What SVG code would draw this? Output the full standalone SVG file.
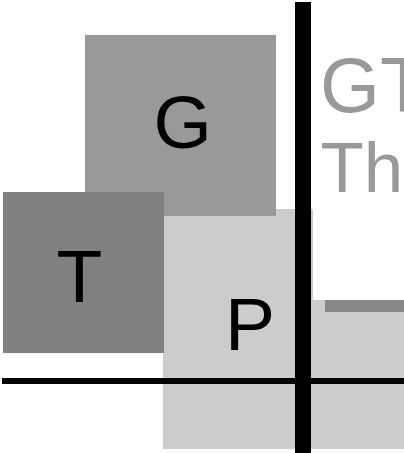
<svg xmlns="http://www.w3.org/2000/svg" width="404" height="453" viewBox="0 0 404 453">
  <style>
    .lbl { font-family: "Liberation Sans", Arial, sans-serif; font-size: 75px; fill: #000000; }
    .side { font-family: "Liberation Sans", Arial, sans-serif; fill: #999999; }
  </style>
  <rect x="0" y="0" width="404" height="453" fill="#ffffff"/>
  <g id="P">
    <rect x="163" y="209" width="150" height="240" fill="#cccccc"/>
    <rect x="311" y="300" width="93" height="149" fill="#cccccc"/>
    <rect x="325" y="300" width="79" height="12" fill="#888888"/>
    <text class="lbl" x="225" y="350">P</text>
  </g>
  <g id="G">
    <rect x="85" y="35" width="191" height="181" fill="#999999"/>
    <text class="lbl" x="153.5" y="148">G</text>
  </g>
  <g id="T">
    <rect x="3" y="192" width="161" height="161" fill="#808080"/>
    <text class="lbl" x="56.5" y="302">T</text>
  </g>
  <g id="side-text">
    <text class="side" x="320" y="112" font-size="77">GT</text>
    <text class="side" x="320.5" y="191.5" font-size="71">Th</text>
  </g>
  <g id="connectors">
    <rect x="2" y="378" width="402" height="6" fill="#000000"/>
    <rect x="295" y="2" width="16" height="451" fill="#000000"/>
  </g>
</svg>
